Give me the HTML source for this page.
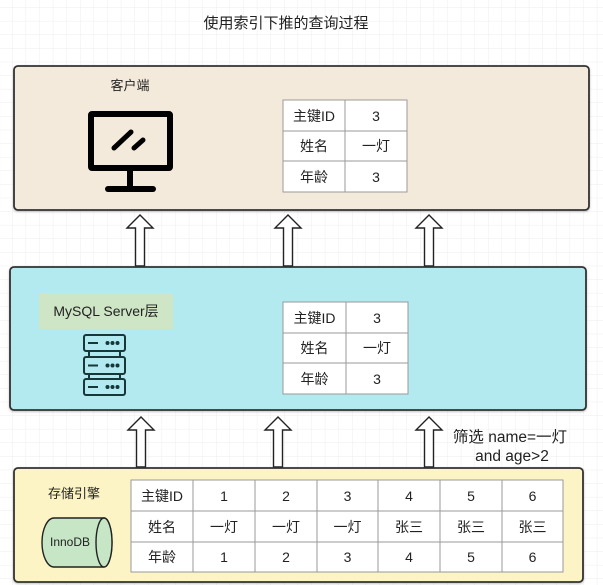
<!DOCTYPE html>
<html>
<head>
<meta charset="utf-8">
<style>
  html,body{margin:0;padding:0;background:#fff;}
  svg{display:block;}
  text{font-family:"Liberation Sans","Noto Sans CJK SC",sans-serif;fill:#222;}
</style>
</head>
<body>
<svg width="603" height="585" viewBox="0 0 603 585" xmlns="http://www.w3.org/2000/svg">
  <defs>
    <pattern id="g" x="12" y="7.3" width="13.6" height="13.6" patternUnits="userSpaceOnUse">
      <path d="M0 0 V13.6 M0 0 H13.6" stroke="#eeeeee" stroke-width="1" fill="none"/>
    </pattern>
    <filter id="sh" x="-5%" y="-5%" width="110%" height="115%">
      <feDropShadow dx="0" dy="1" stdDeviation="1" flood-color="#000" flood-opacity="0.25"/>
    </filter>
  </defs>
  <rect x="0" y="0" width="603" height="585" fill="#fff"/>
  <rect x="0" y="0" width="603" height="585" fill="url(#g)"/>

  <!-- Title -->
  <text x="286" y="28" font-size="15" text-anchor="middle" fill="#222">使用索引下推的查询过程</text>

  <!-- Top box (client) -->
  <rect x="14" y="66" width="575" height="144" rx="4" fill="#f4eadb" stroke="#333" stroke-width="1.8" filter="url(#sh)"/>
  <text x="130" y="90" font-size="13" text-anchor="middle" fill="#333">客户端</text>
  <!-- Monitor -->
  <rect x="91" y="114" width="79" height="54" fill="none" stroke="#000" stroke-width="6" rx="1"/>
  <line x1="130" y1="171" x2="130" y2="189" stroke="#000" stroke-width="6"/>
  <line x1="108" y1="189" x2="153" y2="189" stroke="#000" stroke-width="6" stroke-linecap="round"/>
  <line x1="114" y1="148" x2="131" y2="132" stroke="#000" stroke-width="5" stroke-linecap="round"/>
  <line x1="134" y1="148" x2="143" y2="140" stroke="#000" stroke-width="5" stroke-linecap="round"/>

  <!-- Top table -->
  <g stroke="#9a9a9a" stroke-width="1" fill="#fff">
    <rect x="283" y="100" width="124" height="92"/>
    <line x1="345" y1="100" x2="345" y2="192"/>
    <line x1="283" y1="131" x2="407" y2="131"/>
    <line x1="283" y1="161" x2="407" y2="161"/>
  </g>
  <g font-size="14" text-anchor="middle">
    <text x="314" y="121">主键ID</text><text x="376" y="121">3</text>
    <text x="314" y="151">姓名</text><text x="376" y="151">一灯</text>
    <text x="314" y="182">年龄</text><text x="376" y="182">3</text>
  </g>

  <!-- Arrows top -->
  <g fill="#fff" stroke="#222" stroke-width="1.4" stroke-linejoin="miter">
    <polygon points="140,215 153,228 144.5,228 144.5,266 135.5,266 135.5,228 127,228"/>
    <polygon points="288,215 301,228 292.5,228 292.5,266 283.5,266 283.5,228 275,228"/>
    <polygon points="429,215 442,228 433.5,228 433.5,266 424.5,266 424.5,228 416,228"/>
  </g>

  <!-- Middle box (MySQL server) -->
  <rect x="10" y="267" width="576" height="143" rx="4" fill="#b2eaf0" stroke="#333" stroke-width="1.8" filter="url(#sh)"/>
  <rect x="39" y="293" width="134" height="36" fill="#cfe6c6"/>
  <text x="106" y="316" font-size="14" text-anchor="middle" fill="#333">MySQL Server层</text>
  <!-- Server icon -->
  <g fill="none" stroke="#163838" stroke-width="2">
    <rect x="84" y="335" width="41" height="16" rx="2"/>
    <rect x="84" y="357" width="41" height="17" rx="2"/>
    <rect x="84" y="379" width="41" height="16" rx="2"/>
    <line x1="89" y1="351" x2="89" y2="357"/><line x1="120" y1="351" x2="120" y2="357"/>
    <line x1="89" y1="374" x2="89" y2="379"/><line x1="120" y1="374" x2="120" y2="379"/>
    <line x1="88" y1="343" x2="98" y2="343"/>
    <line x1="88" y1="365.5" x2="98" y2="365.5"/>
    <line x1="88" y1="387" x2="98" y2="387"/>
  </g>
  <g fill="#163838">
    <circle cx="107.5" cy="343" r="2"/><circle cx="112.5" cy="343" r="2"/><circle cx="117.5" cy="343" r="2"/>
    <circle cx="107.5" cy="365.5" r="2"/><circle cx="112.5" cy="365.5" r="2"/><circle cx="117.5" cy="365.5" r="2"/>
    <circle cx="107.5" cy="387" r="2"/><circle cx="112.5" cy="387" r="2"/><circle cx="117.5" cy="387" r="2"/>
  </g>
  <!-- Middle table -->
  <g stroke="#9a9a9a" stroke-width="1" fill="#fff">
    <rect x="283" y="302" width="125" height="92"/>
    <line x1="346" y1="302" x2="346" y2="394"/>
    <line x1="283" y1="333" x2="408" y2="333"/>
    <line x1="283" y1="363" x2="408" y2="363"/>
  </g>
  <g font-size="14" text-anchor="middle">
    <text x="314.5" y="323">主键ID</text><text x="377" y="323">3</text>
    <text x="314.5" y="353">姓名</text><text x="377" y="353">一灯</text>
    <text x="314.5" y="384">年龄</text><text x="377" y="384">3</text>
  </g>

  <!-- Arrows bottom -->
  <g fill="#fff" stroke="#222" stroke-width="1.4" stroke-linejoin="miter">
    <polygon points="141,417 154,430 145.5,430 145.5,467 136.5,467 136.5,430 128,430"/>
    <polygon points="278,417 291,430 282.5,430 282.5,467 273.5,467 273.5,430 265,430"/>
    <polygon points="429,417 442,430 433.5,430 433.5,467 424.5,467 424.5,430 416,430"/>
  </g>
  <text x="510" y="442" font-size="15.5" text-anchor="middle">筛选 name=一灯</text>
  <text x="512" y="461" font-size="15.5" text-anchor="middle">and age&gt;2</text>

  <!-- Bottom box (storage engine) -->
  <rect x="14" y="468" width="569" height="114" rx="4" fill="#fcf4c4" stroke="#333" stroke-width="1.8" filter="url(#sh)"/>
  <text x="74" y="498" font-size="13" text-anchor="middle" fill="#333">存储引擎</text>
  <!-- Cylinder -->
  <path d="M54 518 L104 518 A8 24.5 0 0 1 104 567 L54 567 A12 24.5 0 0 1 54 518 Z" fill="#c6e6c6" stroke="#222" stroke-width="1.4"/>
  <ellipse cx="104" cy="542.5" rx="8" ry="24.5" fill="#c6e6c6" stroke="#222" stroke-width="1.4"/>
  <text x="70" y="546" font-size="12" text-anchor="middle" fill="#333">InnoDB</text>

  <!-- Bottom table -->
  <g stroke="#9a9a9a" stroke-width="1" fill="#fff">
    <rect x="131" y="480" width="432" height="92"/>
    <line x1="193" y1="480" x2="193" y2="572"/>
    <line x1="255" y1="480" x2="255" y2="572"/>
    <line x1="317" y1="480" x2="317" y2="572"/>
    <line x1="378" y1="480" x2="378" y2="572"/>
    <line x1="440" y1="480" x2="440" y2="572"/>
    <line x1="502" y1="480" x2="502" y2="572"/>
    <line x1="131" y1="511" x2="563" y2="511"/>
    <line x1="131" y1="542" x2="563" y2="542"/>
  </g>
  <g font-size="14" text-anchor="middle">
    <text x="162" y="501">主键ID</text>
    <text x="224" y="501">1</text><text x="286" y="501">2</text><text x="347.5" y="501">3</text>
    <text x="409" y="501">4</text><text x="471" y="501">5</text><text x="532.5" y="501">6</text>
    <text x="162" y="532">姓名</text>
    <text x="224" y="532">一灯</text><text x="286" y="532">一灯</text><text x="347.5" y="532">一灯</text>
    <text x="409" y="532">张三</text><text x="471" y="532">张三</text><text x="532.5" y="532">张三</text>
    <text x="162" y="562">年龄</text>
    <text x="224" y="562">1</text><text x="286" y="562">2</text><text x="347.5" y="562">3</text>
    <text x="409" y="562">4</text><text x="471" y="562">5</text><text x="532.5" y="562">6</text>
  </g>
</svg>
</body>
</html>
